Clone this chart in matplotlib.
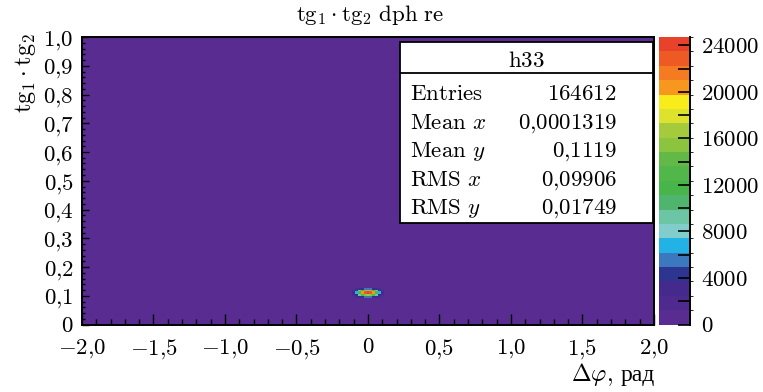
import numpy as np
import matplotlib.pyplot as plt
from matplotlib.colors import ListedColormap, BoundaryNorm
from matplotlib.patches import Rectangle
import matplotlib.colorbar as mcolorbar

plt.rcParams['mathtext.fontset'] = 'cm'
plt.rcParams['font.family'] = ['cmr10', 'DejaVu Serif']
plt.rcParams['axes.unicode_minus'] = False

W, H = 763, 392

# histogram h33: tg1*tg2 vs dphi (bin contents)
x_edges = [-0.11, -0.09, -0.07, -0.05, -0.03, -0.01, 0.01, 0.03, 0.05, 0.07, 0.09, 0.11]
y_edges = [0.093, 0.099, 0.105, 0.110, 0.115, 0.121, 0.127]
counts = [
    [0, 1500, 3000, 4500, 5500, 6000, 5500, 4500, 3000, 1500, 0],
    [1500, 4500, 9000, 13000, 16000, 17000, 16000, 13000, 9000, 4500, 1500],
    [2500, 6500, 13000, 20000, 23000, 24731, 23000, 20000, 13000, 6500, 2500],
    [2500, 6500, 13000, 20000, 23000, 24000, 23000, 20000, 13000, 6500, 2500],
    [1500, 4500, 9000, 13000, 16000, 17000, 16000, 13000, 9000, 4500, 1500],
    [0, 1500, 3000, 4500, 5500, 6000, 5500, 4500, 3000, 1500, 0],
]
z_max = 24731

stats_labels = [r'$\mathrm{Entries}$', r'$\mathrm{Mean}\ x$', r'$\mathrm{Mean}\ y$',
                r'$\mathrm{RMS}\ x$', r'$\mathrm{RMS}\ y$']
stats_values = [r'$164612$', r'$0{,}0001319$', r'$0{,}1119$', r'$0{,}09906$', r'$0{,}01749$']

x_ticks = [-2.0, -1.5, -1.0, -0.5, 0.0, 0.5, 1.0, 1.5, 2.0]
x_ticklabels = [r'$-2{,}0$', r'$-1{,}5$', r'$-1{,}0$', r'$-0{,}5$', r'$0$',
                r'$0{,}5$', r'$1{,}0$', r'$1{,}5$', r'$2{,}0$']
y_ticks = [0.0, 0.1, 0.2, 0.3, 0.4, 0.5, 0.6, 0.7, 0.8, 0.9, 1.0]
y_ticklabels = [r'$0$', r'$0{,}1$', r'$0{,}2$', r'$0{,}3$', r'$0{,}4$', r'$0{,}5$',
                r'$0{,}6$', r'$0{,}7$', r'$0{,}8$', r'$0{,}9$', r'$1{,}0$']
c_ticks = [0, 2000, 4000, 6000, 8000, 10000, 12000, 14000, 16000, 18000, 20000, 22000, 24000]
c_ticklabels = [r'$0$', '', r'$4000$', '', r'$8000$', '', r'$12000$', '', r'$16000$', '',
                r'$20000$', '', r'$24000$']

palette = ['#582c90', '#4f2a8e', '#452a8d', '#2e3590', '#3b78bd', '#22b2e6', '#80cdcc',
           '#6cc6a5', '#4fb56e', '#48b54a', '#50b748', '#63b947', '#8bc540', '#a5cb3c',
           '#dfe22c', '#f8ec1b', '#f7971d', '#f47b22', '#ee5a24', '#e8432a']


def px(x, y):
    return x / W, 1 - y / H


cmap = ListedColormap(palette)
levels = np.linspace(0, z_max, len(palette) + 1)
norm = BoundaryNorm(levels, cmap.N)

fig = plt.figure(figsize=(W / 100, H / 100), dpi=100)
ax = fig.add_axes([82 / W, 1 - 324.5 / H, (654 - 82) / W, (324.5 - 37) / H])
ax.set_facecolor(palette[0])
ax.pcolormesh(x_edges, y_edges, np.array(counts), cmap=cmap, norm=norm)
ax.set_xlim(-2, 2)
ax.set_ylim(0, 1)

ax.set_xticks(x_ticks)
ax.set_xticklabels(x_ticklabels)
ax.set_xticks(np.arange(-2, 2.001, 0.1), minor=True)
ax.set_yticks(y_ticks)
ax.set_yticklabels(y_ticklabels)
ax.set_yticks(np.arange(0, 1.001, 0.02), minor=True)
ax.tick_params(axis='x', which='major', direction='in', length=8, width=1.0, labelsize=16.5, pad=9)
ax.tick_params(axis='x', which='minor', direction='in', length=4.3, width=1.0)
ax.tick_params(axis='y', which='major', direction='in', length=5, width=1.0, labelsize=16.5, pad=6)
ax.tick_params(axis='y', which='minor', direction='in', length=2.5, width=1.0)
for s in ax.spines.values():
    s.set_linewidth(1.4)

# colour palette axis
cax = fig.add_axes([659 / W, 1 - 324.5 / H, 31 / W, (324.5 - 37) / H])
cb = mcolorbar.ColorbarBase(cax, cmap=cmap, norm=norm, boundaries=levels, ticks=c_ticks)
cb.outline.set_visible(False)
cb.set_ticklabels(c_ticklabels)
cax.tick_params(axis='y', direction='in', length=9, width=1.2, labelsize=16.5, pad=8,
                right=True, left=False)
cax.plot([1, 1], [0, 1], transform=cax.transAxes, color='black', lw=1.4, clip_on=False)

# titles
fig.text(*px(370, 15), r'$\mathrm{tg}_1\cdot\mathrm{tg}_2\ \mathrm{dph\ re}$',
         ha='center', va='center', fontsize=16.5)
fig.text(*px(25, 33), r'$\mathrm{tg}_1\cdot\mathrm{tg}_2$', rotation=90,
         ha='center', va='top', fontsize=17.5)

# x axis title: math part + cyrillic unit in a separate text
unit = fig.text(*px(655, 381), 'рад', ha='right', va='baseline', fontsize=17,
                family='Liberation Serif')
fig.canvas.draw()
ub = unit.get_window_extent()
fig.text((ub.x0 - 8) / W, 1 - 381 / H, r'$\Delta\varphi,$', ha='right', va='baseline',
         fontsize=17)

# stats box
box = Rectangle(px(400, 223), 253 / W, 181 / H, transform=fig.transFigure,
                facecolor='white', edgecolor='black', lw=1.3, zorder=5)
fig.patches.append(box)
fig.add_artist(plt.Line2D([400 / W, 653 / W], [1 - 73 / H, 1 - 73 / H],
                          color='black', lw=1.3, zorder=6))
fig.text(*px(526, 67), r'$\mathrm{h33}$', ha='center', va='baseline', fontsize=16.5, zorder=7)
baselines = [100, 129, 157, 186, 214]
for lab, val, yb in zip(stats_labels, stats_values, baselines):
    fig.text(*px(410, yb), lab, ha='left', va='baseline', fontsize=16.5, zorder=7)
    fig.text(*px(617, yb), val, ha='right', va='baseline', fontsize=16.5, zorder=7)

fig.savefig('out.png', dpi=100)
